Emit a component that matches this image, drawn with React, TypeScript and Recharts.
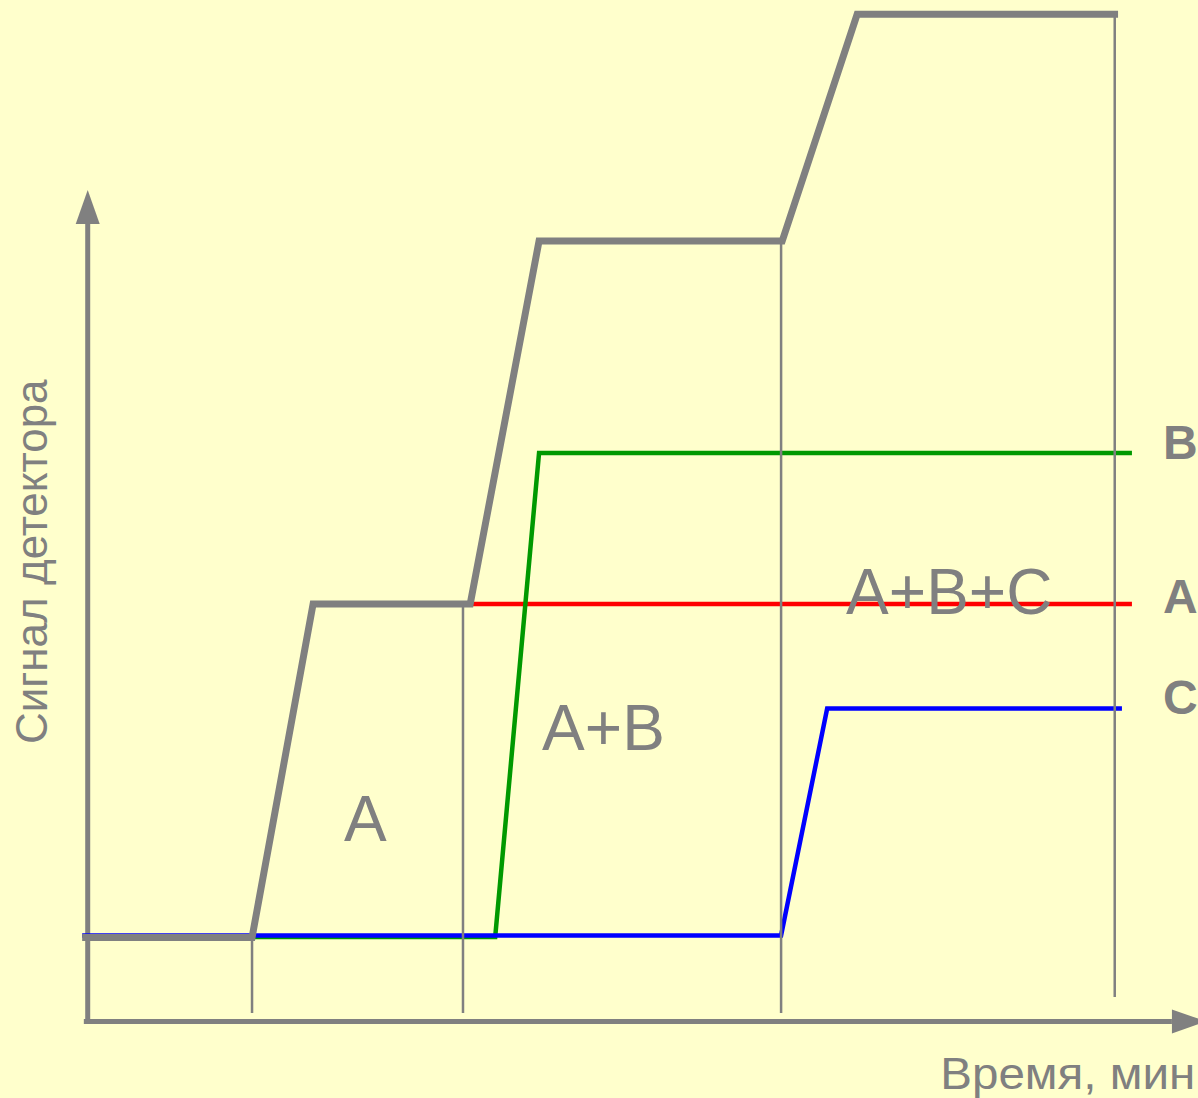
import React from 'react'
import { LineChart, Line, XAxis, YAxis, ReferenceLine, ReferenceDot } from 'recharts'

// time (min) / detector signal, schematic values
const totalSignal = [
  { t: -0.1, v: 8.21 },
  { t: 2.96, v: 8.21 },
  { t: 4.06, v: 40.87 },
  { t: 6.89, v: 40.87 },
  { t: 8.13, v: 76.4 },
  { t: 12.51, v: 76.4 },
  { t: 13.86, v: 98.6 },
  { t: 18.56, v: 98.6 },
]
const signalA = [
  { t: 6.89, v: 40.87 },
  { t: 18.81, v: 40.87 },
]
const signalB = [
  { t: 2.96, v: 8.26 },
  { t: 7.34, v: 8.26 },
  { t: 8.13, v: 55.65 },
  { t: 18.81, v: 55.65 },
]
const signalC = [
  { t: -0.1, v: 8.41 },
  { t: 12.49, v: 8.41 },
  { t: 13.32, v: 30.63 },
  { t: 18.63, v: 30.63 },
]

// vertical markers: time, top of the marker, bottom of the marker
const markerTimes = [2.96, 6.76, 12.49, 18.5]
const markerTops = [8.21, 40.87, 76.4, 98.6]
const markerBottoms = [0.82, 0.82, 0.82, 2.39]

// region labels inside the plot
const regionLabels = ['A', 'A+B', 'A+B+C']
const regionTimes = [5.0, 9.29, 15.52]
const regionSignals = [17.66, 26.58, 39.89]

// series names at the right end
const seriesNames = ['B', 'A', 'C']
const seriesNameSignals = [55.02, 39.99, 30.1]
const seriesNameTime = 19.68

const xAxisTitle = 'Время, мин'
const yAxisTitle = 'Сигнал детектора'

const GRAY = '#808080'
const FONT = '"Liberation Sans", Arial, sans-serif'

const textShape = (
  label: string,
  size: number,
  weight: string | number,
  anchor: 'start' | 'middle' | 'end',
  rotate = false,
  length?: number
) =>
  (props: any) => (
    <text
      x={props.cx}
      y={props.cy}
      fill={GRAY}
      fontSize={size}
      fontWeight={weight}
      fontFamily={FONT}
      textAnchor={anchor}
      textLength={length}
      lengthAdjust={length ? 'spacingAndGlyphs' : undefined}
      transform={rotate ? `rotate(-90, ${props.cx}, ${props.cy})` : undefined}
    >
      {label}
    </text>
  )

const upArrow = (props: any) => (
  <polygon points={`${props.cx},${props.cy} ${props.cx - 12},${props.cy + 34} ${props.cx + 12},${props.cy + 34}`} fill={GRAY} />
)
const rightArrow = (props: any) => (
  <polygon points={`${props.cx},${props.cy - 12} ${props.cx + 34},${props.cy} ${props.cx},${props.cy + 12}`} fill={GRAY} />
)

export default function App() {
  return (
    <div style={{ position: 'absolute', left: 0, top: 0, width: 1198, height: 1098, background: '#FFFFCC' }}>
      <LineChart width={1198} height={1098} margin={{ top: 0, right: 0, bottom: 0, left: 0 }}>
        <XAxis type="number" dataKey="t" domain={[-1.58, 20]} allowDataOverflow hide />
        <YAxis type="number" dataKey="v" domain={[-7.5, 100]} allowDataOverflow hide />

        {/* axes */}
        <ReferenceLine
          segment={[{ x: 0, y: -0.16 }, { x: 0, y: 78.1 }]}
          stroke={GRAY}
          strokeWidth={5}
          ifOverflow="visible"
        />
        <ReferenceLine
          segment={[{ x: -0.07, y: 0 }, { x: 19.53, y: 0 }]}
          stroke={GRAY}
          strokeWidth={5}
          ifOverflow="visible"
        />
        <ReferenceDot x={0} y={81.4} r={1} shape={upArrow} ifOverflow="visible" />
        <ReferenceDot x={19.53} y={0} r={1} shape={rightArrow} ifOverflow="visible" />

        <Line data={signalA} dataKey="v" type="linear" stroke="#FF0000" strokeWidth={4.5} dot={false} activeDot={false} isAnimationActive={false} />
        <Line data={signalB} dataKey="v" type="linear" stroke="#009900" strokeWidth={4.5} dot={false} activeDot={false} isAnimationActive={false} />
        <Line data={signalC} dataKey="v" type="linear" stroke="#0000FF" strokeWidth={4.5} dot={false} activeDot={false} isAnimationActive={false} />
        <Line data={totalSignal} dataKey="v" type="linear" stroke={GRAY} strokeWidth={7} dot={false} activeDot={false} isAnimationActive={false} />

        {markerTimes.map((t, i) => (
          <ReferenceLine
            key={'m' + i}
            segment={[{ x: t, y: markerBottoms[i] }, { x: t, y: markerTops[i] }]}
            stroke={GRAY}
            strokeWidth={2.5}
            ifOverflow="visible"
          />
        ))}

        {regionLabels.map((label, i) => (
          <ReferenceDot
            key={'r' + i}
            x={regionTimes[i]}
            y={regionSignals[i]}
            r={1}
            shape={textShape(label, 64, 'normal', 'middle')}
            ifOverflow="visible"
          />
        ))}

        {seriesNames.map((name, i) => (
          <ReferenceDot
            key={'s' + i}
            x={seriesNameTime}
            y={seriesNameSignals[i]}
            r={1}
            shape={textShape(name, 48, 'bold', 'middle')}
            ifOverflow="visible"
          />
        ))}

        <ReferenceDot x={19.95} y={-6.6} r={1} shape={textShape(xAxisTitle, 45, 'normal', 'end', false, 255)} ifOverflow="visible" />
        <ReferenceDot x={-0.74} y={45.0} r={1} shape={textShape(yAxisTitle, 44, 'normal', 'middle', true)} ifOverflow="visible" />
      </LineChart>
    </div>
  )
}
